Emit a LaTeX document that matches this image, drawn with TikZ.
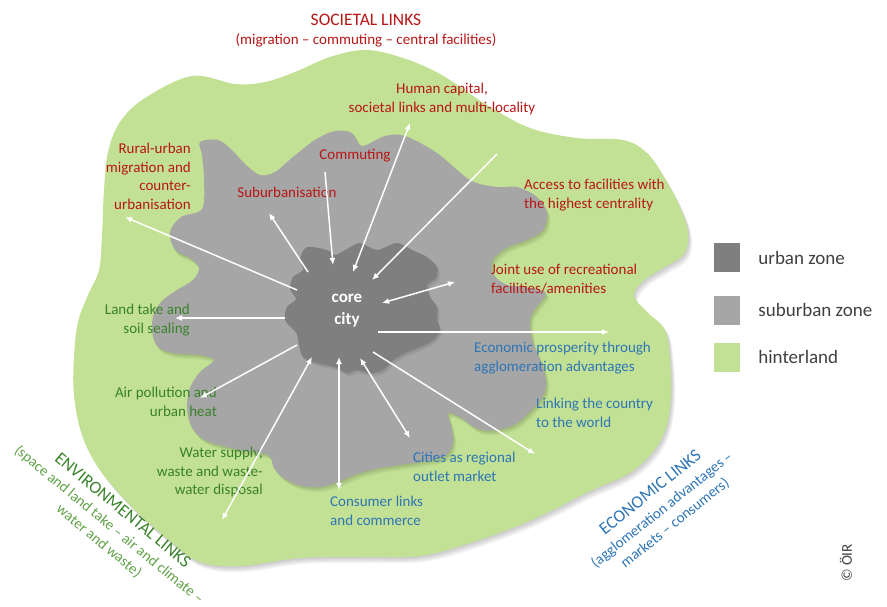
\documentclass[tikz,border=0pt]{standalone}
\usepackage{fontspec}
\setmainfont{Carlito}
\usepackage{tikz}
\usetikzlibrary{arrows.meta}
\usetikzlibrary{positioning}
\usepackage{color}
\definecolor{soc-red}{RGB}{184,22,22}
\definecolor{env-green}{RGB}{58,130,42}
\definecolor{env-light}{RGB}{96,162,72}
\definecolor{eco-blue}{RGB}{46,117,182}
\definecolor{hinter-green}{RGB}{194,225,148}
\definecolor{suburb-gray}{RGB}{166,166,166}
\definecolor{urban-gray}{RGB}{127,127,127}
\definecolor{legend-text}{RGB}{64,64,64}

% outlines of the three zones (picture units = pixels, y downwards)
\newcommand{\hinterland}{plot[smooth cycle, tension=0.6] coordinates {
    (192,76) (235,84) (265,82) (295,72) (330,57) (365,50) (400,57) (440,74)
    (487,105) (530,128) (577,138) (623,140) (647,153) (664,177) (679,205)
    (688,232) (684,254) (665,267) (643,281) (634,296) (647,312) (665,330)
    (670,360) (671,395) (666,428) (652,453) (628,474) (588,492) (557,508)
    (520,525) (470,543) (420,556) (360,557) (300,558) (240,566) (200,562)
    (170,541) (133,508) (100,470) (82,435) (74,395) (74,357) (78,322)
    (88,295) (99,270) (102,235) (104,190) (108,152) (120,122) (145,98)}}
\newcommand{\suburbzone}{plot[smooth cycle, tension=0.55] coordinates {
    (200,142) (218,140) (232,150) (245,164) (260,175) (275,172) (293,157)
    (315,140) (335,131) (352,133) (362,146) (385,136) (405,136) (437,153)
    (470,180) (497,187) (517,187) (537,197) (547,213) (543,230) (527,240)
    (508,247) (494,258) (492,272) (505,284) (530,288) (546,293) (537,306)
    (530,320) (533,343) (543,367) (546,387) (538,403) (517,423) (497,430)
    (478,429) (460,417) (448,413) (451,426) (453,442) (445,456) (420,462)
    (400,465) (380,468) (357,474) (338,482) (320,487) (302,486) (285,479)
    (274,468) (268,455) (240,450) (207,441) (192,428) (187,408) (190,388)
    (200,372) (214,360) (200,355) (173,353) (157,346) (152,330) (154,313)
    (163,300) (177,290) (193,280) (199,268) (190,258) (175,250) (170,232)
    (181,217) (202,209) (204,180) (202,155)}}
\newcommand{\urbanzone}{plot[smooth cycle, tension=0.5] coordinates {
    (307,247) (327,250) (335,255) (347,249) (360,243) (377,250) (397,243)
    (412,250) (427,257) (437,267) (436,278) (427,285) (430,297) (437,307)
    (437,320) (440,330) (433,340) (420,347) (405,353) (393,360) (383,370)
    (370,373) (357,370) (347,373) (335,367) (317,363) (303,357) (299,345)
    (296,332) (285,320) (287,307) (296,299) (290,289) (293,277) (303,270)
    (300,259)}}

\begin{document}
\begin{tikzpicture}[x=1pt, y=-1pt]
    \path[use as bounding box] (0,0) rectangle (887,606);

    \tikzset{ soc/.style ={text=soc-red,   inner sep=0pt, font=\fontsize{15}{18.5}\selectfont} }
    \tikzset{ env/.style ={text=env-green, inner sep=0pt, font=\fontsize{15}{18.5}\selectfont} }
    \tikzset{ eco/.style ={text=eco-blue,  inner sep=0pt, font=\fontsize{15}{18.5}\selectfont} }
    \tikzset{ big/.style ={font=\fontsize{17.5}{21}\selectfont} }
    \tikzset{ leg/.style ={minimum width=26pt, minimum height=29pt, inner sep=0pt} }
    \tikzset{ legtxt/.style ={text=legend-text, inner sep=0pt, anchor=west, font=\fontsize{19}{22}\selectfont} }
    \tikzset{ shadowfill/.style ={fill=black, fill opacity=0.045} }
    \tikzset{ arw/.style ={draw=white, line width=1.5pt, >={Latex[length=7pt,width=6pt]}} }

    % zones with a soft shadow
    \foreach \s in {1,...,5} \fill[shadowfill, shift={(0.8*\s,1.2*\s)}] \hinterland;
    \fill[hinter-green] \hinterland;
    \foreach \s in {1,...,4} \fill[shadowfill, shift={(0.8*\s,1.2*\s)}] \suburbzone;
    \fill[suburb-gray] \suburbzone;
    \foreach \s in {1,...,3} \fill[shadowfill, shift={(0.8*\s,1.2*\s)}] \urbanzone;
    \fill[urban-gray] \urbanzone;

    % titles
    \node[soc, big] (soc-title) at (366,20) {SOCIETAL LINKS};
    \node[soc] (soc-sub) at (366,40) {(migration – commuting – central facilities)};

    \node[env, big, rotate=-39.5]                  (env-title) at (123,510) {ENVIRONMENTAL LINKS};
    \node[env, text=env-light, rotate=-39.5]       (env-sub1)  at (109,525) {(space and land take – air and climate –};
    \node[env, text=env-light, rotate=-39.5]       (env-sub2)  at (99,541)  {water and waste)};

    \node[eco, big, rotate=38.6] (eco-title) at (650,492) {ECONOMIC LINKS};
    \node[eco, rotate=38.6]      (eco-sub1)  at (662,510) {(agglomeration advantages –};
    \node[eco, rotate=38.6]      (eco-sub2)  at (675,523) {markets – consumers)};

    % core
    \node[text=white, align=center, inner sep=0pt, font=\fontsize{17}{22}\selectfont\bfseries] (core) at (347,311) {core\\city};

    % societal links
    \node[soc, anchor=north, align=center] (human) at (442,83) {Human capital,\\societal links and multi-locality};
    \node[soc, anchor=north east, align=right] (rural) at (191,143) {Rural-urban\\migration and\\counter-\\urbanisation};
    \node[soc] (suburb) at (287,192) {Suburbanisation};
    \node[soc] (commute) at (355,156) {Commuting};
    \node[soc, anchor=north west, align=left] (access) at (524,179) {Access to facilities with\\the highest centrality};
    \node[soc, anchor=north west, align=left] (joint) at (491,264) {Joint use of recreational\\facilities/amenities};

    % environmental links
    \node[env, anchor=north east, align=right] (land) at (190,304) {Land take and\\soil sealing};
    \node[env, anchor=north east, align=right] (air) at (217,387) {Air pollution and\\urban heat};
    \node[env, anchor=north east, align=right] (water) at (263,447) {Water supply,\\waste and waste-\\water disposal};

    % economic links
    \node[eco, anchor=north west, align=left] (prosper) at (474,342) {Economic prosperity through\\agglomeration advantages};
    \node[eco, anchor=north west, align=left] (world) at (536,398) {Linking the country\\to the world};
    \node[eco, anchor=north west, align=left] (outlet) at (413,452) {Cities as regional\\outlet market};
    \node[eco, anchor=north west, align=left] (consumer) at (330,496) {Consumer links\\and commerce};

    % arrow ends
    \coordinate (rural-a)    at (297,290);  \coordinate (rural-b)    at (125,217);
    \coordinate (suburb-a)   at (308,272);  \coordinate (suburb-b)   at (269,213);
    \coordinate (commute-a)  at (325,172);  \coordinate (commute-b)  at (333,265);
    \coordinate (human-a)    at (353,272);  \coordinate (human-b)    at (410,123);
    \coordinate (access-a)   at (497,154);  \coordinate (access-b)   at (372,280);
    \coordinate (joint-a)    at (382,303);  \coordinate (joint-b)    at (455,282);
    \coordinate (prosper-a)  at (378,332);  \coordinate (prosper-b)  at (609,332);
    \coordinate (world-a)    at (373,352);  \coordinate (world-b)    at (535,454);
    \coordinate (outlet-a)   at (360,358);  \coordinate (outlet-b)   at (410,438);
    \coordinate (consumer-a) at (339,357);  \coordinate (consumer-b) at (339,490);
    \coordinate (water-a)    at (312,357);  \coordinate (water-b)    at (222,520);
    \coordinate (air-a)      at (297,345);  \coordinate (air-b)      at (200,398);
    \coordinate (land-a)     at (285,318);  \coordinate (land-b)     at (175,318);

    \draw[arw, ->]  (rural-a) -- (rural-b);
    \draw[arw, ->]  (suburb-a) -- (suburb-b);
    \draw[arw, ->]  (commute-a) -- (commute-b);
    \draw[arw, <->] (human-a) -- (human-b);
    \draw[arw, ->]  (access-a) -- (access-b);
    \draw[arw, <->] (joint-a) -- (joint-b);
    \draw[arw, ->]  (prosper-a) -- (prosper-b);
    \draw[arw, ->]  (world-a) -- (world-b);
    \draw[arw, <->] (outlet-a) -- (outlet-b);
    \draw[arw, <->] (consumer-a) -- (consumer-b);
    \draw[arw, <->] (water-a) -- (water-b);
    \draw[arw, ->]  (air-a) -- (air-b);
    \draw[arw, ->]  (land-a) -- (land-b);

    % legend
    \node[leg, fill=urban-gray]   (leg-urban)  at (727,257.5) {};
    \node[leg, fill=suburb-gray]  (leg-suburb) at (727,310)   {};
    \node[leg, fill=hinter-green] (leg-hinter) at (727,357)   {};
    \node[legtxt, right=18pt of leg-urban]  (txt-urban)  {urban zone};
    \node[legtxt, right=18pt of leg-suburb] (txt-suburb) {suburban zone};
    \node[legtxt, right=18pt of leg-hinter] (txt-hinter) {hinterland};

    \node[text=legend-text, rotate=90, inner sep=0pt, font=\fontsize{15}{18}\selectfont] (copy) at (846,563) {© ÖIR};
\end{tikzpicture}
\end{document}
